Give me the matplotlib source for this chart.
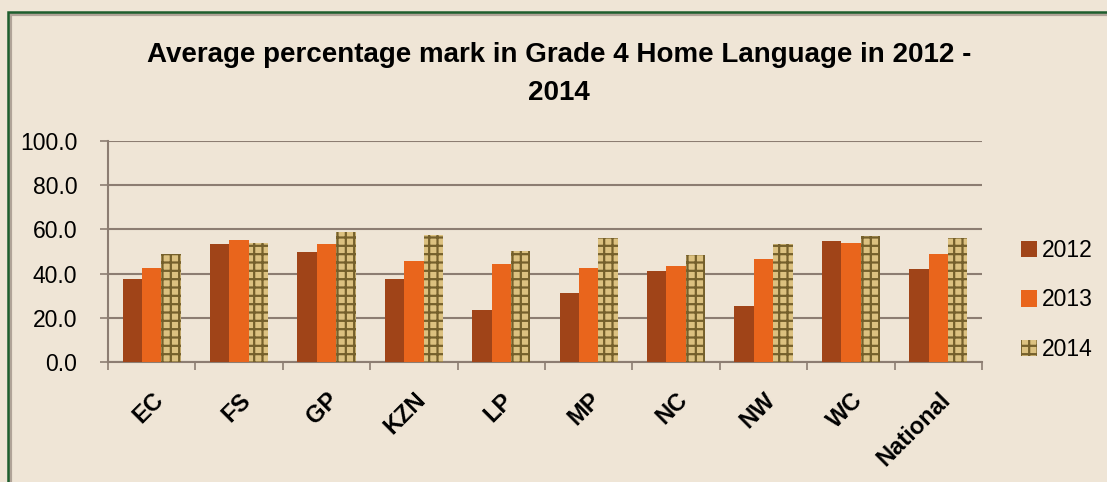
import matplotlib
matplotlib.use("Agg")
import matplotlib.pyplot as plt
import numpy as np
from matplotlib.patches import Rectangle

# data
regions = ["EC", "FS", "GP", "KZN", "LP", "MP", "NC", "NW", "WC", "National"]
years = ["2012", "2013", "2014"]
marks_2012 = [37.5, 53.5, 49.7, 37.5, 23.5, 31.0, 41.0, 25.5, 54.7, 42.2]
marks_2013 = [42.6, 55.3, 53.5, 45.9, 44.4, 42.6, 43.3, 46.7, 53.9, 49.0]
marks_2014 = [49.0, 53.9, 58.8, 57.3, 50.1, 56.2, 48.2, 53.2, 56.9, 56.2]
y_ticks = [0, 20, 40, 60, 80, 100]

bg = "#EFE5D6"
grid_col = "#8C7D72"

plt.rcParams["font.family"] = ["Liberation Sans", "DejaVu Sans"]
plt.rcParams["hatch.linewidth"] = 1.6

fig = plt.figure(figsize=(11.07, 4.82), dpi=100, facecolor=bg)

# green frame (only top and left edges show in the reference)
fig.patches.append(Rectangle((10 / 1107, -0.1), 1.2, 0.1 + (482 - 14) / 482,
                             transform=fig.transFigure, fill=False,
                             edgecolor="#B0A398", linewidth=3, zorder=0))
fig.patches.append(Rectangle((8 / 1107, -0.1), 1.2, 0.1 + (482 - 12) / 482,
                             transform=fig.transFigure, fill=False,
                             edgecolor="#1E5E2E", linewidth=1.8, zorder=1))

ax = fig.add_axes([108 / 1107, 120 / 482, (982 - 108) / 1107, (362 - 141) / 482])
ax.set_facecolor(bg)

x = np.arange(len(regions))
w = 0.222
ax.bar(x - w, marks_2012, w, color="#A04418", linewidth=0, zorder=3, label=years[0])
ax.bar(x, marks_2013, w, color="#E9651C", linewidth=0, zorder=3, label=years[1])
ax.bar(x + w, marks_2014, w, color="#DCC180", edgecolor="#75602C", hatch="++",
       linewidth=0, zorder=3, label=years[2])

ax.set_ylim(0, 100)
ax.set_xlim(-0.5, len(regions) - 0.5)
ax.set_yticks(y_ticks)
ax.set_yticklabels([f"{v:.1f}" for v in y_ticks], fontsize=16.5)
ax.yaxis.grid(True, color=grid_col, linewidth=1.5, zorder=0)
ax.set_axisbelow(True)

# category boundaries as ticks, labels centred on each group
ax.set_xticks(np.arange(len(regions) + 1) - 0.5)
ax.set_xticklabels([])
ax.set_xticks(x, minor=True)
ax.set_xticklabels(regions, minor=True, rotation=45, ha="right",
                   rotation_mode="anchor", fontsize=17, fontweight="bold")
ax.tick_params(axis="x", which="minor", length=0, pad=19)
ax.tick_params(axis="x", which="major", length=6, color=grid_col, width=1.2)
ax.tick_params(axis="y", length=6, color=grid_col, width=1.2, pad=16)

for side in ["top", "right"]:
    ax.spines[side].set_visible(False)
for side in ["left", "bottom"]:
    ax.spines[side].set_color(grid_col)
    ax.spines[side].set_linewidth(1.5)

fig.text(0.505, 1 - 74 / 482, "Average percentage mark in Grade 4 Home Language in 2012 -\n2014",
         ha="center", va="center", fontsize=20, fontweight="bold", linespacing=1.6)

ax.legend(loc="center left", bbox_to_anchor=(1005 / 1107, 1 - 300 / 482),
          bbox_transform=fig.transFigure, frameon=False, fontsize=16.5,
          handlelength=0.7, handleheight=0.7, handletextpad=0.2,
          labelspacing=1.15, borderpad=0.2)

fig.savefig("out.png", dpi=100, facecolor=bg)
